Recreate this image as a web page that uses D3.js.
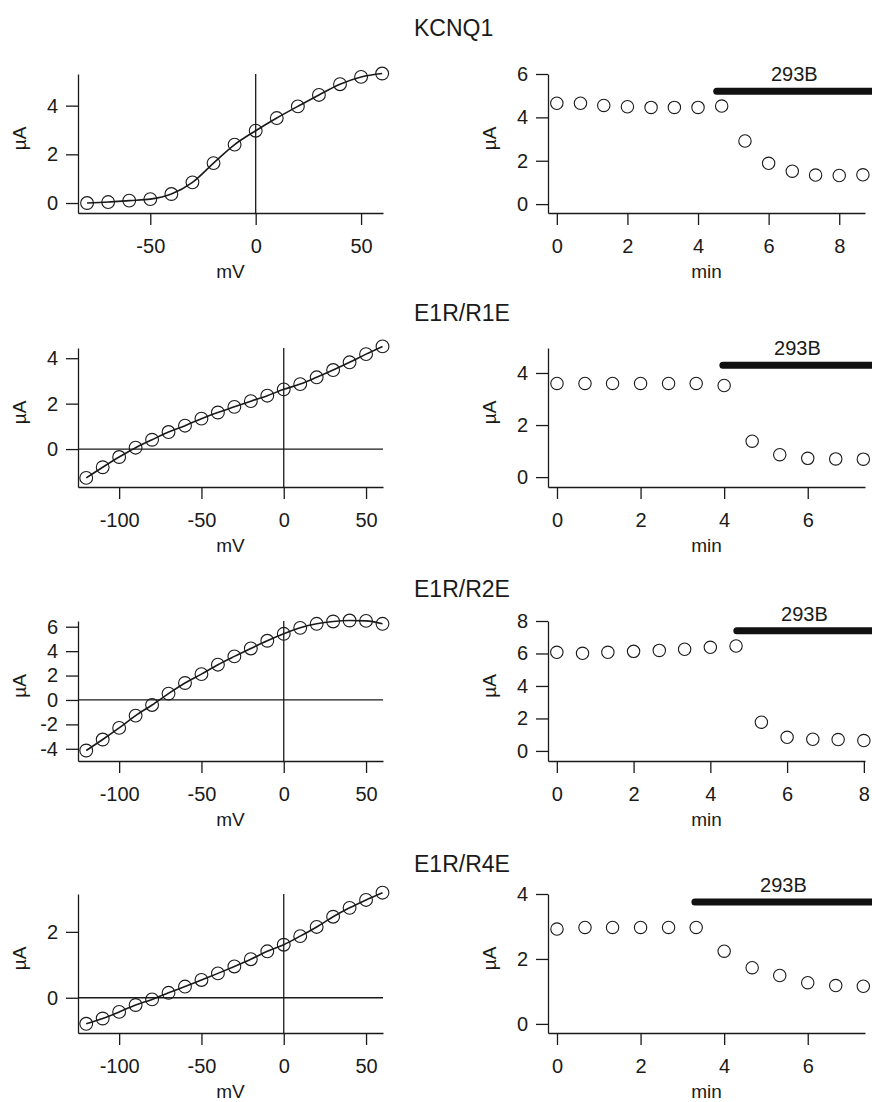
<!DOCTYPE html>
<html>
<head>
<meta charset="utf-8">
<script src="https://cdn.jsdelivr.net/npm/d3@7"></script>
<style>
  body { margin: 0; background: #fff; }
  svg { display: block; font-family: "Liberation Sans", Arial, sans-serif; }
</style>
</head>
<body>
<svg id="chart" width="872" height="1102"></svg>
<script>
// construct names, one per row
var titles = ['KCNQ1', 'E1R/R1E', 'E1R/R2E', 'E1R/R4E'];

// current-voltage relations (mV, µA)
var kcnq1Volt = [-80, -70, -60, -50, -40, -30, -20, -10, 0, 10, 20, 30, 40, 50, 60];
var kcnq1Iv = [0.0, 0.04, 0.1, 0.16, 0.37, 0.85, 1.64, 2.4, 2.97, 3.49, 3.97, 4.44, 4.88, 5.18, 5.32];

var e1rVolt = [-120, -110, -100, -90, -80, -70, -60, -50, -40, -30, -20, -10, 0, 10, 20, 30, 40, 50, 60];
var r1eIv = [-1.27, -0.8, -0.35, 0.06, 0.41, 0.75, 1.03, 1.34, 1.61, 1.86, 2.11, 2.35, 2.63, 2.86, 3.16, 3.48, 3.82, 4.18, 4.52];
var r2eIv = [-4.14, -3.24, -2.29, -1.28, -0.41, 0.52, 1.39, 2.12, 2.89, 3.57, 4.22, 4.85, 5.42, 5.91, 6.24, 6.43, 6.51, 6.48, 6.24];
var r4eIv = [-0.79, -0.63, -0.43, -0.22, -0.05, 0.15, 0.34, 0.54, 0.74, 0.95, 1.17, 1.41, 1.61, 1.87, 2.15, 2.46, 2.73, 2.97, 3.19];

// time courses (min, µA)
var kcnq1Time = [0, 0.67, 1.33, 2, 2.67, 3.33, 4, 4.67, 5.33, 6, 6.67, 7.33, 8, 8.67];
var kcnq1Curr = [4.65, 4.65, 4.55, 4.49, 4.46, 4.46, 4.46, 4.52, 2.91, 1.88, 1.52, 1.34, 1.32, 1.35];
var r1eTime = [0, 0.67, 1.33, 2, 2.67, 3.33, 4, 4.67, 5.33, 6, 6.67, 7.33];
var r1eCurr = [3.6, 3.6, 3.6, 3.6, 3.6, 3.6, 3.52, 1.38, 0.86, 0.72, 0.7, 0.69];
var r2eTime = [0, 0.67, 1.33, 2, 2.67, 3.33, 4, 4.67, 5.33, 6, 6.67, 7.33, 8];
var r2eCurr = [6.07, 6.01, 6.07, 6.13, 6.19, 6.26, 6.38, 6.46, 1.77, 0.84, 0.72, 0.7, 0.64];
var r4eTime = [0, 0.67, 1.33, 2, 2.67, 3.33, 4, 4.67, 5.33, 6, 6.67, 7.33];
var r4eCurr = [2.92, 2.97, 2.97, 2.97, 2.97, 2.97, 2.24, 1.73, 1.49, 1.27, 1.18, 1.16];

// 293B application bars
var drugLabel = '293B';
var drugStart = [4.53, 3.97, 4.69, 3.3];
var drugEnd = [9.2, 7.9, 8.5, 7.9];
var drugLevel = [5.2, 4.3, 7.4, 3.75];

// tick values
var ivXTicks = [[-50, 0, 50], [-100, -50, 0, 50], [-100, -50, 0, 50], [-100, -50, 0, 50]];
var ivYTicks = [[0, 2, 4], [0, 2, 4], [-4, -2, 0, 2, 4, 6], [0, 2]];
var tcXTicks = [[0, 2, 4, 6, 8], [0, 2, 4, 6], [0, 2, 4, 6, 8], [0, 2, 4, 6]];
var tcYTicks = [[0, 2, 4, 6], [0, 2, 4], [0, 2, 4, 6, 8], [0, 2, 4]];

var ivVolts = [kcnq1Volt, e1rVolt, e1rVolt, e1rVolt];
var ivCurr = [kcnq1Iv, r1eIv, r2eIv, r4eIv];
var tcTimes = [kcnq1Time, r1eTime, r2eTime, r4eTime];
var tcCurr = [kcnq1Curr, r1eCurr, r2eCurr, r4eCurr];

// layout
var W = 872;
var rowTop = [74, 348, 621, 894];
var rowBottom = [213, 487, 761, 1033];
var titleY = [36, 321, 597, 872];
var leftRange = [78, 383], rightRange = [548, 865];
var ivXDomain = [[-84.3, 60.4], [-125, 60.3], [-125, 60.3], [-125, 60.3]];
var ivYDomain = [[-0.41, 5.3], [-1.67, 4.45], [-5.0, 6.47], [-1.07, 3.15]];
var tcXDomain = [[-0.25, 8.73], [-0.215, 7.37], [-0.23, 8.03], [-0.215, 7.37]];
var tcYDomain = [[-0.41, 6], [-0.38, 4.96], [-0.62, 8], [-0.28, 4]];
var zeroH = [false, true, true, true];

var ink = '#1a1a1a';
var svg = d3.select('#chart');

function styleAxis(g) {
  g.selectAll('.domain, .tick line')
    .attr('stroke', ink)
    .attr('stroke-width', 1.3);
  g.selectAll('.tick text')
    .attr('fill', ink)
    .attr('font-size', 20);
}

function drawAxes(g, x, y, xTicks, yTicks, xLabel) {
  var y0 = y.range()[0], x0 = x.range()[0];

  g.append('g')
    .attr('transform', 'translate(0,' + y0 + ')')
    .call(d3.axisBottom(x).tickValues(xTicks).tickSize(12).tickSizeOuter(0)
      .tickPadding(14).tickFormat(String))
    .call(styleAxis);

  g.append('g')
    .attr('transform', 'translate(' + x0 + ',0)')
    .call(d3.axisLeft(y).tickValues(yTicks).tickSize(12).tickSizeOuter(0)
      .tickPadding(8).tickFormat(String))
    .call(styleAxis);

  g.append('text')
    .attr('x', (x.range()[0] + x.range()[1]) / 2)
    .attr('y', y0 + 65)
    .attr('text-anchor', 'middle')
    .attr('font-size', 19)
    .attr('fill', ink)
    .text(xLabel);

  var cy = (y.range()[0] + y.range()[1]) / 2 - 5;
  g.append('text')
    .attr('transform', 'translate(' + (x0 - 52) + ',' + cy + ') rotate(-90)')
    .attr('text-anchor', 'middle')
    .attr('font-size', 19)
    .attr('fill', ink)
    .text('µA');
}

function drawIv(i) {
  var g = svg.append('g').classed('iv-panel', true);
  var x = d3.scaleLinear().domain(ivXDomain[i]).range(leftRange);
  var y = d3.scaleLinear().domain(ivYDomain[i]).range([rowBottom[i], rowTop[i]]);
  var pts = ivVolts[i].map(function(v, k) { return [v, ivCurr[i][k]]; });

  drawAxes(g, x, y, ivXTicks[i], ivYTicks[i], 'mV');

  // zero reference lines
  g.append('line')
    .attr('x1', x(0)).attr('x2', x(0))
    .attr('y1', y.range()[1]).attr('y2', y.range()[0])
    .attr('stroke', ink).attr('stroke-width', 1.3);

  if (zeroH[i]) {
    g.append('line')
      .attr('x1', x.range()[0]).attr('x2', x.range()[1])
      .attr('y1', y(0)).attr('y2', y(0))
      .attr('stroke', ink).attr('stroke-width', 1.3);
  }

  var line = d3.line()
    .x(function(d) { return x(d[0]); })
    .y(function(d) { return y(d[1]); })
    .curve(d3.curveMonotoneX);

  g.append('path')
    .datum(pts)
    .attr('d', line)
    .attr('fill', 'none')
    .attr('stroke', ink)
    .attr('stroke-width', 1.6);

  g.selectAll('circle')
    .data(pts)
    .enter()
    .append('circle')
    .attr('cx', function(d) { return x(d[0]); })
    .attr('cy', function(d) { return y(d[1]); })
    .attr('r', 6.4)
    .attr('fill', 'none')
    .attr('stroke', ink)
    .attr('stroke-width', 1.1);
}

function drawTimeCourse(i) {
  var g = svg.append('g').classed('tc-panel', true);
  var x = d3.scaleLinear().domain(tcXDomain[i]).range(rightRange);
  var y = d3.scaleLinear().domain(tcYDomain[i]).range([rowBottom[i], rowTop[i]]);
  var pts = tcTimes[i].map(function(t, k) { return [t, tcCurr[i][k]]; });

  drawAxes(g, x, y, tcXTicks[i], tcYTicks[i], 'min');

  g.append('line')
    .attr('x1', x(drugStart[i])).attr('x2', x(drugEnd[i]))
    .attr('y1', y(drugLevel[i])).attr('y2', y(drugLevel[i]))
    .attr('stroke', '#111')
    .attr('stroke-width', 7)
    .attr('stroke-linecap', 'round');

  g.append('text')
    .attr('x', (x(drugStart[i]) + W) / 2)
    .attr('y', y(drugLevel[i]) - 10)
    .attr('text-anchor', 'middle')
    .attr('font-size', 20)
    .attr('fill', ink)
    .text(drugLabel);

  g.selectAll('circle')
    .data(pts)
    .enter()
    .append('circle')
    .attr('cx', function(d) { return x(d[0]); })
    .attr('cy', function(d) { return y(d[1]); })
    .attr('r', 6.2)
    .attr('fill', 'none')
    .attr('stroke', ink)
    .attr('stroke-width', 1.1);
}

titles.forEach(function(t, i) {
  svg.append('text')
    .attr('x', 414)
    .attr('y', titleY[i])
    .attr('font-size', 23)
    .attr('fill', ink)
    .text(t);
  drawIv(i);
  drawTimeCourse(i);
});
</script>
</body>
</html>
